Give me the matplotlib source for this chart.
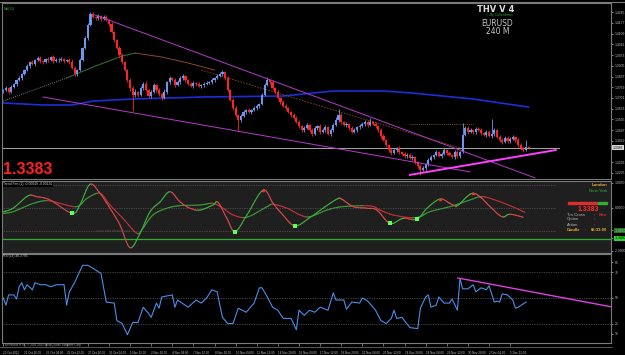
import matplotlib
matplotlib.use("Agg")
import matplotlib.pyplot as plt
import numpy as np

# ---------------- data ----------------
first_open = 1.3745
closes = [
    1.3751, 1.3764, 1.3739, 1.3770, 1.3789, 1.3815, 1.3828, 1.3853, 1.3878, 1.3904,
    1.3929, 1.3916, 1.3942, 1.3955, 1.3935, 1.3929, 1.3948, 1.3942, 1.3961, 1.3935,
    1.3942, 1.3944, 1.3948, 1.3935, 1.3942, 1.3929, 1.3891, 1.3853, 1.3878, 1.3942,
    1.4018, 1.4082, 1.4164, 1.4234, 1.4215, 1.4209, 1.4221, 1.4202, 1.4215, 1.4196,
    1.4170, 1.4120, 1.4069, 1.4018, 1.3974, 1.3929, 1.3878, 1.3815, 1.3764, 1.3720,
    1.3739, 1.3720, 1.3764, 1.3789, 1.3751, 1.3713, 1.3739, 1.3783, 1.3751, 1.3726,
    1.3701, 1.3739, 1.3802, 1.3828, 1.3815, 1.3783, 1.3802, 1.3828, 1.3840, 1.3815,
    1.3789, 1.3777, 1.3796, 1.3789, 1.3777, 1.3783, 1.3789, 1.3796, 1.3802, 1.3815,
    1.3828, 1.3840, 1.3853, 1.3866, 1.3828, 1.3751, 1.3688, 1.3637, 1.3593, 1.3561,
    1.3586, 1.3612, 1.3624, 1.3612, 1.3624, 1.3637, 1.3650, 1.3662, 1.3720, 1.3783,
    1.3815, 1.3802, 1.3764, 1.3739, 1.3701, 1.3675, 1.3650, 1.3637, 1.3612, 1.3593,
    1.3574, 1.3548, 1.3523, 1.3497, 1.3510, 1.3529, 1.3497, 1.3472, 1.3510, 1.3523,
    1.3485, 1.3497, 1.3516, 1.3472, 1.3497, 1.3529, 1.3561, 1.3593, 1.3548, 1.3529,
    1.3535, 1.3510, 1.3485, 1.3497, 1.3516, 1.3523, 1.3535, 1.3548, 1.3529, 1.3548,
    1.3535, 1.3523, 1.3497, 1.3459, 1.3434, 1.3402, 1.3370, 1.3351, 1.3370, 1.3383,
    1.3358, 1.3345, 1.3332, 1.3339, 1.3320, 1.3326, 1.3294, 1.3269, 1.3243, 1.3256,
    1.3281, 1.3307, 1.3326, 1.3339, 1.3358, 1.3332, 1.3345, 1.3370, 1.3351, 1.3339,
    1.3326, 1.3358, 1.3332, 1.3358, 1.3466, 1.3510, 1.3485, 1.3497, 1.3485, 1.3504,
    1.3497, 1.3478, 1.3466, 1.3485, 1.3459, 1.3472, 1.3497, 1.3453, 1.3434, 1.3421,
    1.3447, 1.3427, 1.3440, 1.3453, 1.3434, 1.3402, 1.3383, 1.3370, 1.3389, 1.3383,
]
# upper / lower wick lengths in pips
wick_hi = [
    8, 12, 6, 10, 9, 7, 11, 8, 6, 12, 9, 14, 7, 10, 15, 8, 9, 12, 7, 10,
    11, 8, 14, 6, 9, 10, 18, 12, 8, 10, 9, 12, 11, 13, 14, 9, 12, 8, 15, 10,
    8, 11, 9, 7, 12, 10, 8, 9, 13, 11, 16, 9, 12, 14, 20, 8, 11, 15, 9, 12,
    10, 18, 9, 12, 8, 14, 10, 11, 13, 9, 8, 12, 10, 9, 11, 8, 12, 10, 9, 11,
    8, 10, 12, 14, 9, 11, 8, 10, 12, 9, 15, 10, 8, 12, 9, 10, 11, 8, 14, 10,
    20, 9, 10, 8, 11, 9, 12, 10, 8, 9, 11, 10, 12, 9, 14, 10, 8, 12, 11, 9,
    10, 12, 14, 9, 11, 10, 16, 35, 10, 9, 11, 8, 12, 10, 9, 14, 11, 12, 10, 25,
    9, 11, 8, 10, 12, 9, 8, 11, 10, 9, 12, 8, 10, 9, 11, 10, 8, 9, 12, 10,
    9, 11, 10, 8, 12, 9, 11, 10, 9, 12, 8, 10, 11, 9, 76, 14, 10, 12, 9, 11,
    10, 12, 9, 11, 10, 95, 12, 9, 10, 11, 13, 9, 10, 12, 9, 11, 10, 10, 45, 8,
]
wick_lo = [
    10, 8, 14, 9, 7, 11, 8, 10, 9, 7, 12, 8, 10, 9, 11, 14, 8, 10, 9, 12,
    8, 10, 9, 12, 7, 11, 9, 15, 10, 8, 9, 7, 10, 8, 9, 11, 10, 12, 8, 9,
    10, 9, 11, 8, 12, 10, 9, 14, 16, 100, 10, 12, 9, 11, 8, 13, 10, 9, 12, 10,
    11, 9, 10, 12, 8, 11, 9, 14, 10, 12, 9, 8, 11, 10, 9, 12, 10, 8, 9, 11,
    10, 8, 9, 11, 10, 12, 9, 14, 11, 64, 10, 9, 12, 8, 10, 9, 11, 10, 9, 8,
    9, 11, 10, 12, 9, 10, 8, 11, 9, 12, 10, 9, 11, 15, 10, 9, 12, 10, 8, 11,
    10, 9, 12, 8, 11, 10, 9, 12, 10, 9, 11, 10, 8, 9, 12, 10, 9, 11, 10, 8,
    9, 11, 10, 12, 9, 10, 11, 14, 9, 10, 12, 9, 11, 10, 9, 12, 10, 11, 31, 9,
    10, 12, 9, 11, 10, 8, 12, 9, 11, 10, 9, 12, 10, 11, 9, 10, 12, 9, 11, 10,
    9, 11, 10, 12, 9, 10, 11, 9, 12, 10, 9, 11, 10, 9, 12, 10, 11, 12, 9, 8,
]
current_price = 1.3383

ma_slow_bars = [0, 15, 26, 34, 49, 76, 106, 125, 144, 155, 178, 199]
ma_slow_vals = [1.3669, 1.3656, 1.3656, 1.3681, 1.3694, 1.3707, 1.3713, 1.3745, 1.3745, 1.3732, 1.3694, 1.3643]
ma_green_bars = [24, 35, 45, 50]
ma_green_vals = [1.3828, 1.3904, 1.3967, 1.3986]
ma_brown_bars = [50, 60, 70, 80]
ma_brown_vals = [1.3986, 1.3961, 1.3923, 1.3878]
ma_dot_bars = [0, 24]
ma_dot_vals = [1.3681, 1.3828]
brown_trend_bars = [75, 173]
brown_trend_vals = [1.3878, 1.3383]
orange_level_bars = [154, 178]
orange_level_vals = [1.3535, 1.3535]
upper_trend_bars = [34.7, 201.4]
upper_trend_vals = [1.4228, 1.3193]
lower_trend_bars = [15.0, 176.8]
lower_trend_vals = [1.3707, 1.3231]
support_bars = [154.0, 209.3]
support_vals = [1.3212, 1.3370]
price_ticks = [1.4245, 1.4177, 1.4109, 1.4041, 1.3973, 1.3905, 1.3837, 1.3769,
               1.3701, 1.3633, 1.3565, 1.3497, 1.3429, 1.3293, 1.3225]

fast_bars = [0, 3.7, 9.4, 12.8, 17.7, 26, 29, 32.8, 36.6, 40.4, 44.2, 48, 51.8, 55.6, 59.4,
             63.1, 66.9, 70.7, 74.5, 79.4, 81.3, 84.7, 87.8, 92.3, 98.4, 102.2, 105.9,
             110.5, 116.1, 121.1, 126.4, 128.3, 132.5, 137.8, 141.5, 146.5, 151.4, 156.7,
             160.5, 165.4, 169.2, 171.9, 175.6, 177.9, 180.6, 184.4, 188.9, 191.9, 196.9]
fast_vals = [-0.16, -0.01, 0.53, 0.49, 0.35, -0.23, 0.13, 1.03, 0.64, -0.01, -0.74, -1.73,
             -1.10, -0.16, 0.27, 0.71, 0.27, -0.01, -0.09, 0.13, 0.25, -0.45, -1.03, -0.30,
             0.78, 0.20, -0.30, -0.78, -0.42, -0.01, 0.39, 0.38, 0.06, -0.01, -0.09, -0.67,
             -0.45, -0.49, -0.01, 0.39, 0.20, 0.10, 0.49, 0.64, 0.49, 0.06, -0.38, -0.27, -0.40]
slow_bars = [0, 3.7, 11.3, 16.6, 21.5, 27.9, 31.7, 36.6, 40.4, 45.3, 50.6, 52.9, 56.7, 62,
             66.9, 74.5, 79.4, 83.2, 87, 92.3, 99.9, 102.2, 107.5, 112.4, 116.1, 122.6,
             128.7, 138.9, 142.7, 147.6, 154, 157.8, 161.6, 169.2, 176.8, 180.6, 184.4, 192, 197.6]
slow_vals = [-0.23, -0.16, 0.20, 0.32, 0.20, 0.06, 0.42, 0.64, 0.13, -0.45, -1.10, -0.88,
             -0.30, -0.01, 0.10, 0.13, 0.20, -0.01, -0.30, -0.40, 0.06, 0.16, -0.01, -0.30,
             -0.38, -0.09, 0.06, 0.09, -0.09, -0.30, -0.42, -0.38, -0.16, 0.06, 0.35, 0.49,
             0.42, 0.10, -0.19]
buy_dot_bars = [26, 87.8, 110.5, 146.5, 156.7]
buy_dot_vals = [-0.23, -1.03, -0.78, -0.67, -0.49]
sell_mark_bars = [98.4, 165.4, 177.9]
sell_mark_vals = [0.78, 0.39, 0.64]

rsi_bars = [0, 1, 2, 4, 5, 6, 7, 8, 9, 11, 12, 14, 16, 18, 20, 23, 24, 25, 27, 30, 32, 34, 37,
            39, 42, 43, 45, 47, 49, 51, 53, 55, 56, 58, 59, 60, 64, 65, 66, 70, 73, 75, 77,
            79, 81, 83, 85, 87, 89, 92, 95, 97, 98, 100, 102, 104, 106, 109, 111, 112, 114,
            116, 118, 120, 123, 125, 126, 129, 130, 132, 135, 136, 138, 141, 143, 145, 147,
            148, 149, 151, 154, 157, 158, 160, 161, 162, 164, 165, 167, 169, 170, 172, 173,
            174, 176, 178, 179, 181, 183, 184, 186, 187, 188, 189, 191, 193, 194, 195, 198]
rsi_vals = [50, 43, 53, 53, 49, 61, 65, 58, 63, 58, 65, 63, 63, 61, 63, 63, 43, 56, 65, 82,
            82, 79, 74, 46, 45, 28, 25, 14, 26, 26, 41, 35, 31, 45, 40, 51, 53, 41, 48, 41,
            48, 45, 50, 58, 56, 31, 25, 25, 40, 36, 45, 60, 60, 51, 41, 38, 30, 30, 19, 38,
            33, 38, 36, 41, 38, 55, 48, 48, 39, 46, 45, 50, 47, 38, 28, 25, 30, 38, 30, 31,
            21, 20, 40, 51, 53, 41, 43, 51, 45, 45, 49, 38, 69, 59, 59, 63, 56, 60, 58, 62,
            46, 47, 46, 54, 53, 48, 40, 41, 46]
rsi_trend_bars = [172.2, 230.6]
rsi_trend_vals = [69.6, 41.2]
rsi_levels = [75, 50, 25]
rsi_ticks = [85, 75, 50, 25, 15]

date_labels = ["20 Oct 2011", "21 Oct 20:00", "25 Oct 04:00", "26 Oct 12:00", "27 Oct 20:00",
               "31 Oct 04:00", "1 Nov 12:00", "2 Nov 20:00", "4 Nov 04:00", "7 Nov 12:00",
               "8 Nov 20:00", "10 Nov 04:00", "11 Nov 12:00", "14 Nov 20:00", "16 Nov 04:00",
               "17 Nov 12:00", "18 Nov 20:00", "22 Nov 04:00", "23 Nov 12:00", "24 Nov 20:00",
               "28 Nov 04:00", "29 Nov 12:00", "30 Nov 20:00", "2 Dec 04:00", "5 Dec 12:00"]
bars_per_label = 8

# ---------------- figure ----------------
W, H = 625, 355
fig = plt.figure(figsize=(W / 100, H / 100), dpi=100, facecolor="black")
SMALL = "Liberation Sans"


def rect(l, t, r, b):
    return [l / W, 1 - b / H, (r - l) / W, (b - t) / H]


def ftext(x, y, s, **kw):
    kw.setdefault("va", "center")
    kw.setdefault("family", SMALL)
    fig.text(x / W, 1 - y / H, s, **kw)


XMIN, XMAX = -0.5, 230.2
BORDER = "#7a7a7a"
TXT = "#bdbdbd"

ax1 = fig.add_axes(rect(2, 3, 611, 179), facecolor="black")
ax2 = fig.add_axes(rect(2, 181, 611, 253), facecolor="#1f1f1f")
ax3 = fig.add_axes(rect(2, 254, 611, 343), facecolor="black")

for ax in (ax1, ax2, ax3):
    ax.set_xlim(XMIN, XMAX)
    for s in ax.spines.values():
        s.set_color(BORDER)
        s.set_linewidth(0.8)
    ax.yaxis.tick_right()
    ax.tick_params(axis="y", labelsize=2.4, colors=TXT, length=1.5, width=0.5, pad=1)
    ax.tick_params(axis="x", length=0)

ax1.set_xticks([])
ax2.set_xticks([])

# ---- candles ----
n = len(closes)
idx = np.arange(n)
c = np.array(closes)
o = np.concatenate([[first_open], c[:-1]])
hi = np.maximum(o, c) + np.array(wick_hi) * 1e-4
lo = np.minimum(o, c) - np.array(wick_lo) * 1e-4
bull = c >= o
BLUE = "#6b98ee"
RED = "#ff2424"
cols = np.where(bull, BLUE, RED)
ax1.vlines(idx, lo, hi, colors=cols, linewidth=0.6, zorder=3)
ax1.bar(idx, np.maximum(np.abs(c - o), 0.00015), bottom=np.minimum(o, c), width=0.82,
        color=cols, linewidth=0, zorder=4)

ax1.set_ylim(1.3186, 1.4304)

# moving averages / lines
ax1.plot(ma_slow_bars, ma_slow_vals, color="#1c2fd6", lw=1.2, zorder=2)
ax1.plot(ma_dot_bars, ma_dot_vals, color="#9a9a9a", lw=0.6, ls=(0, (1, 1.5)), zorder=2)
ax1.plot(ma_green_bars, ma_green_vals, color="#2f7a2f", lw=0.7, zorder=2)
ax1.plot(ma_brown_bars, ma_brown_vals, color="#8a4a2a", lw=0.7, zorder=2)
ax1.plot(brown_trend_bars, brown_trend_vals, color="#8a4a2a", lw=0.6, ls=(0, (2, 1.5)), zorder=2)
ax1.plot(orange_level_bars, orange_level_vals, color="#b06a30", lw=0.6, ls=(0, (1, 1.5)), zorder=2)
ax1.plot(upper_trend_bars, upper_trend_vals, color="#b43cc4", lw=0.7, zorder=5)
ax1.plot(lower_trend_bars, lower_trend_vals, color="#b43cc4", lw=0.7, zorder=5)
ax1.plot(support_bars, support_vals, color="#ff40ff", lw=1.4, zorder=5)
ax1.plot([XMIN, 210.6], [current_price, current_price], color="#a8a8a8", lw=0.7, zorder=1)

ax1.set_yticks(price_ticks)
ax1.set_yticklabels([f"{v:.4f}" for v in price_ticks], family=SMALL)
ax1.text(1.003, current_price, f"{current_price:.4f}", transform=ax1.get_yaxis_transform(),
         fontsize=2.4, color="black", va="center", ha="left", family=SMALL,
         bbox=dict(boxstyle="square,pad=0.15", fc="#d8d8d8", ec="none"), clip_on=False)

# texts main panel
ftext(4, 9, "MA(13)", fontsize=2.4, color="#2fa02f")
ftext(496, 9, "THV V 4", fontsize=6, color="#dcdcdc", ha="center", fontweight="bold",
      family="DejaVu Sans")
ftext(499, 15, "\u00a9 By Cobraforex", fontsize=2.6, color="#2fa02f", ha="center")
ftext(497, 23, "EURUSD", fontsize=5.5, color="#c8c8c8", ha="center", family="DejaVu Sans")
ftext(498, 32, "240 M", fontsize=5.5, color="#c8c8c8", ha="center", family="DejaVu Sans")
ftext(3, 170, "1.3383", fontsize=11.5, color="#ff2020", fontweight="bold")

# ---- indicator panel ----
ax2.set_ylim(-1.957, 1.174)
for lv in (1.0, 0.0, -1.0):
    ax2.axhline(lv, color="#6a6a6a", lw=0.5, ls=(0, (1, 1.5)), xmax=0.91)
ax2.axhline(-1.35, color="#2fb02f", lw=0.9)


def smooth(xs, ys, k=8):
    # Catmull-Rom rendering through the read points
    xs = np.asarray(xs, float)
    ys = np.asarray(ys, float)
    px = np.concatenate([[xs[0]], xs, [xs[-1]]])
    py = np.concatenate([[ys[0]], ys, [ys[-1]]])
    ox, oy = [], []
    t = np.linspace(0, 1, k, endpoint=False)
    for i in range(1, len(px) - 2):
        for arr, out in ((px, ox), (py, oy)):
            p0, p1, p2, p3 = arr[i - 1], arr[i], arr[i + 1], arr[i + 2]
            out.extend(0.5 * ((2 * p1) + (-p0 + p2) * t + (2 * p0 - 5 * p1 + 4 * p2 - p3) * t ** 2
                              + (-p0 + 3 * p1 - 3 * p2 + p3) * t ** 3))
    ox.append(xs[-1])
    oy.append(ys[-1])
    return np.array(ox), np.array(oy)


def slope_line(ax, xs, ys, lw, green, red):
    sx, sy = smooth(xs, ys)
    for i in range(len(sx) - 1):
        col = green if sy[i + 1] >= sy[i] else red
        ax.plot(sx[i:i + 2], sy[i:i + 2], color=col, lw=lw, solid_capstyle="round", zorder=3)


slope_line(ax2, slow_bars, slow_vals, 0.8, "#3a9a3a", "#c0303a")
slope_line(ax2, fast_bars, fast_vals, 0.8, "#3fae3f", "#d84848")
ax2.scatter(buy_dot_bars, buy_dot_vals, s=5, color="#5cff5c", marker="s", zorder=5, linewidths=0)
ax2.scatter(sell_mark_bars, sell_mark_vals, s=6, color="#ff3030", marker="^", zorder=5, linewidths=0)
ax2.set_yticks([1.1, 0.0, -0.96, -1.30, -1.85])
ax2.set_yticklabels(["1.0850", "0.0000", "-1.0010", "-1.3400", "-2.0000"], family=SMALL)
tl = ax2.get_yticklabels()
tl[2].set_bbox(dict(boxstyle="square,pad=0.1", fc="#1f7a1f", ec="none"))
tl[3].set_bbox(dict(boxstyle="square,pad=0.1", fc="#2fd02f", ec="none"))
tl[3].set_color("black")

ftext(3, 184.5, "Trend Fan (1) -0.00049 -0.00130", fontsize=2.4, color="#c8c8c8",
      bbox=dict(boxstyle="square,pad=0.1", fc="black", ec="none"))
ftext(113, 231, "www.cobraforex.com", fontsize=2.6, color="#4a4a4a", ha="center")
ftext(607, 185, "London", fontsize=3.2, color="#e8a838", ha="right", fontweight="bold")
ftext(607, 191, "New York", fontsize=3.2, color="#30b030", ha="right")
for k, col in enumerate(["#d83030", "#d83030", "#d83030", "#30b030"]):
    fig.patches.append(plt.Rectangle(((568 + 10 * k) / W, 1 - 204 / H), 8.5 / W, 2 / H,
                                     transform=fig.transFigure, color=col))
ftext(588, 209.5, "1.3383", fontsize=5, color="#ff2a2a", ha="center", fontweight="bold")
ftext(567, 214.5, "Trs Cross", fontsize=3, color="#b8b8b8")
ftext(594, 214.5, ":", fontsize=3, color="#b8b8b8")
ftext(607, 214.5, "Bear", fontsize=3, color="#ff3030", ha="right")
ftext(567, 219.5, "Option", fontsize=3, color="#b8b8b8")
ftext(594, 219.5, ":", fontsize=3, color="#b8b8b8")
ftext(567, 224.5, "Action", fontsize=3, color="#b8b8b8")
ftext(594, 224.5, ":", fontsize=3, color="#b8b8b8")
ftext(567, 230, "Candle", fontsize=3, color="#e8a838", fontweight="bold")
ftext(585, 230, ":", fontsize=3, color="#e8a838")
ftext(607, 230, "05:33:00", fontsize=3, color="#e8a838", ha="right", fontweight="bold")

# ---- RSI panel ----
ax3.set_ylim(5.9, 93.1)
for lv in rsi_levels:
    ax3.axhline(lv, color="#7a7a7a", lw=0.5, ls=(0, (1, 1.5)))
ax3.plot(rsi_bars, rsi_vals, color="#4a8ee8", lw=0.8, zorder=3)
ax3.plot(rsi_trend_bars, rsi_trend_vals, color="#e040e0", lw=1.0, zorder=4)
ax3.set_yticks(rsi_ticks)
ax3.set_yticklabels([str(v) for v in rsi_ticks], family=SMALL)
ftext(3, 256.5, "RSI(14) 46.2785", fontsize=2.4, color="#c0c0c0")

xt = [bars_per_label * k for k in range(len(date_labels))]
ax3.set_xticks(xt)
ax3.set_xticklabels(date_labels, family=SMALL)
ax3.tick_params(axis="x", labelsize=2.2, colors=TXT, length=2, width=0.4, pad=3.6)
for lbl in ax3.get_xticklabels():
    lbl.set_ha("left")

ftext(3, 345.3, "TheVolume RTX, \u00a9 2001-2011 MetaQuotes Software Corp.", fontsize=2.2, color="#9a9a9a")
fig.add_artist(plt.Line2D([0, 612 / W], [1 - 346.8 / H, 1 - 346.8 / H], color=BORDER, lw=0.5))
fig.add_artist(plt.Line2D([0, 1], [1 - 1.5 / H, 1 - 1.5 / H], color=BORDER, lw=0.8))

fig.savefig("out.png", dpi=100, facecolor="black")
